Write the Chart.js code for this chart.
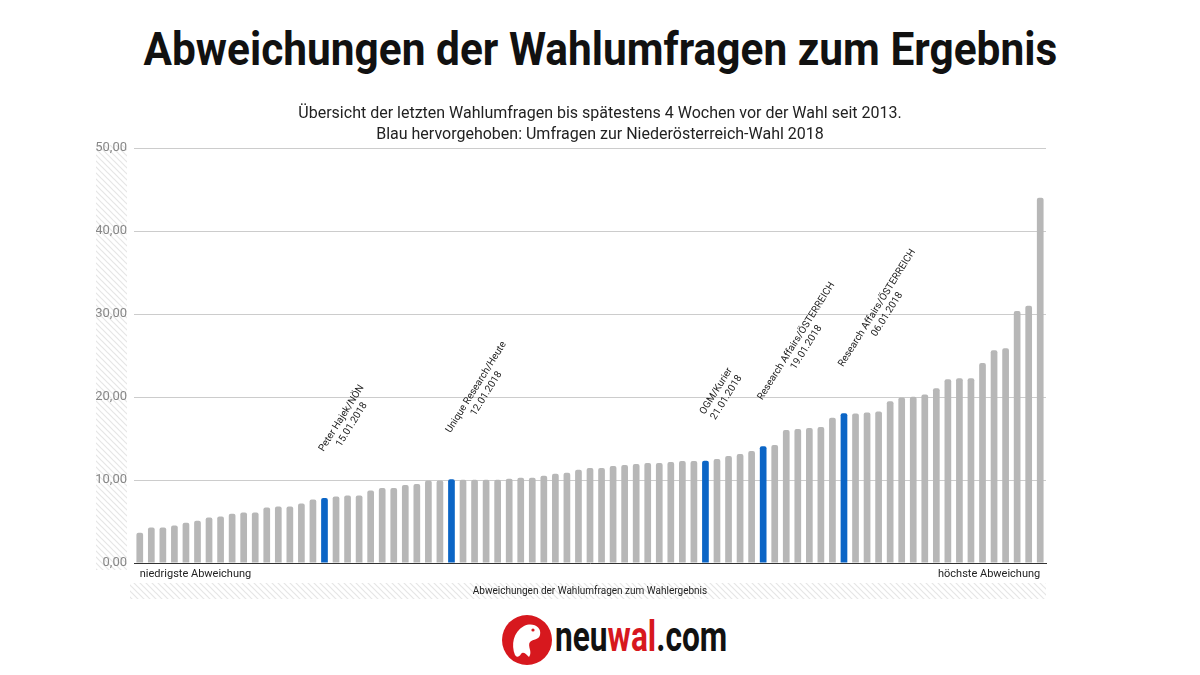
<!DOCTYPE html>
<html lang="de">
<head>
<meta charset="utf-8">
<title>Abweichungen der Wahlumfragen zum Ergebnis</title>
<script src="https://cdn.jsdelivr.net/npm/chart.js@4.4.1/dist/chart.umd.min.js"></script>
<style>
  html, body { margin: 0; padding: 0; background: #fff; }
  body { width: 1200px; height: 675px; position: relative; overflow: hidden; font-family: Roboto, "Noto Sans", sans-serif; }
  #titel { position: absolute; top: 22px; left: 0; width: 1200px; text-align: center; white-space: nowrap; }
  #titel span { display: inline-block; font-weight: 700; font-size: 46px; color: #111; transform-origin: center; }
  #chartBox { position: absolute; left: 0; top: 95px; width: 1200px; height: 515px; }
  #logo { position: absolute; left: 502px; top: 615px; height: 50px; }
  #logo svg { position: absolute; left: 0; top: 0; }
  #logo .txt { position: absolute; left: 53px; top: -3px; font-weight: 700; font-size: 42px; color: #111; white-space: nowrap; transform-origin: left center; }
  #logo .rot { color: #d7181e; }
</style>
</head>
<body>
<div id="titel"><span>Abweichungen der Wahlumfragen zum Ergebnis</span></div>
<div id="chartBox"><canvas id="grafik"></canvas></div>
<div id="logo">
  <svg width="50" height="50" viewBox="0 0 50 50">
    <circle cx="25" cy="25" r="25" fill="#d7181e"/>
    <path d="M13 40 C 9 30, 11 17, 22 11 C 31 7, 40 12, 38 20 C 37 25, 31 24, 28 27 C 25 31, 31 37, 27 42 C 24 39, 21 36, 19 39 C 17 42, 15 43, 13 40 Z" fill="#fff"/>
    <circle cx="31" cy="15" r="1.6" fill="#d7181e"/>
  </svg>
  <span class="txt">neu<span class="rot">wal</span>.com</span>
</div>
<script>
// Abweichungen (sortiert), von links nach rechts
const werte = [
  3.64, 4.28, 4.28, 4.52, 4.84, 5.08, 5.48, 5.6, 5.92, 6.08,
  6.08, 6.68, 6.8, 6.8, 7.16, 7.64, 7.84, 8.0, 8.12, 8.12,
  8.72, 9.04, 9.04, 9.4, 9.52, 9.94, 9.94, 10.1, 10.02, 10.02,
  10.02, 10.02, 10.14, 10.26, 10.26, 10.5, 10.74, 10.86, 11.22, 11.46,
  11.46, 11.7, 11.82, 11.94, 12.06, 12.06, 12.18, 12.3, 12.3, 12.32,
  12.54, 12.9, 13.14, 13.5, 14.06, 14.22, 16.03, 16.15, 16.27, 16.39,
  17.5, 18.05, 18.0, 18.13, 18.25, 19.5, 19.95, 20.02, 20.31, 21.04,
  22.13, 22.25, 22.25, 24.1, 25.63, 25.88, 30.35, 30.99, 44.01
];
const kategorien = werte.map((w, i) => "Umfrage " + (i + 1));
const randLabels = ["niedrigste Abweichung", "höchste Abweichung"];

// Umfragen zur NÖ-Wahl 2018 (blau)
const markiert = [16, 27, 49, 54, 61];
const institute = ["Peter Hajek/NÖN", "Unique Research/Heute", "OGM/Kurier", "Research Affairs/ÖSTERREICH", "Research Affairs/ÖSTERREICH"];
const umfrageDaten = ["15.01.2018", "12.01.2018", "21.01.2018", "19.01.2018", "06.01.2018"];

const yTicks = [0, 10, 20, 30, 40, 50];
const untertitel = [
  "Übersicht der letzten Wahlumfragen bis spätestens 4 Wochen vor der Wahl seit 2013.",
  "Blau hervorgehoben: Umfragen zur Niederösterreich-Wahl 2018"
];
const xTitel = "Abweichungen der Wahlumfragen zum Wahlergebnis";

const GRAU = "#b7b7b7";
const BLAU = "#0b65c6";

// Titel und Logo auf Breite bringen (schmaler Schnitt)
const t = document.querySelector("#titel span");
t.style.transform = "scaleX(" + (914 / t.offsetWidth) + ")";
const l = document.querySelector("#logo .txt");
l.style.transform = "scaleX(" + (172 / l.offsetWidth) + ")";

function schraffur(ctx) {
  const c = document.createElement("canvas");
  c.width = 6; c.height = 6;
  const p = c.getContext("2d");
  p.strokeStyle = "#e6e6e6";
  p.lineWidth = 1.2;
  p.beginPath();
  p.moveTo(0, 0); p.lineTo(6, 6);
  p.moveTo(-3, 3); p.lineTo(3, 9);
  p.moveTo(3, -3); p.lineTo(9, 3);
  p.stroke();
  return ctx.createPattern(c, "repeat");
}

const hintergrund = {
  id: "hintergrund",
  beforeDraw(chart) {
    const { ctx, chartArea: a, width } = chart;
    ctx.save();
    ctx.fillStyle = schraffur(ctx);
    ctx.fillRect(a.left - 38, a.top - 3, 31, a.bottom - a.top + 10);
    ctx.fillRect(a.left - 4, a.bottom + 20, a.right - a.left + 4, 16);
    ctx.fillStyle = "#222";
    ctx.textAlign = "center";
    ctx.textBaseline = "middle";
    ctx.font = "10px Roboto";
    ctx.fillText(xTitel, (a.left + a.right) / 2, a.bottom + 28);
    // Untertitel über die ganze Breite zentriert
    ctx.font = "16px Roboto";
    untertitel.forEach((z, i) => ctx.fillText(z, width / 2, 19 + i * 21));
    ctx.restore();
  }
};

const beschriftung = {
  id: "beschriftung",
  afterDatasetsDraw(chart) {
    const { ctx } = chart;
    const meta = chart.getDatasetMeta(0);
    ctx.save();
    ctx.font = "10px Roboto";
    ctx.fillStyle = "#222";
    ctx.textAlign = "center";
    ctx.textBaseline = "middle";
    markiert.forEach((idx, k) => {
      const bar = meta.data[idx];
      const w = Math.max(ctx.measureText(institute[k]).width, ctx.measureText(umfrageDaten[k]).width);
      ctx.save();
      ctx.translate(bar.x + 2, bar.y - 44);
      ctx.rotate(-58 * Math.PI / 180);
      ctx.fillText(institute[k], w / 2, -6);
      ctx.fillText(umfrageDaten[k], w / 2, 6);
      ctx.restore();
    });
    ctx.restore();
  }
};

new Chart(document.getElementById("grafik"), {
  type: "bar",
  data: {
    labels: kategorien,
    datasets: [{
      data: werte,
      backgroundColor: werte.map((w, i) => markiert.includes(i) ? BLAU : GRAU),
      categoryPercentage: 1,
      barPercentage: 0.58,
      borderRadius: { topLeft: 2, topRight: 2 },
      borderSkipped: "bottom"
    }]
  },
  options: {
    responsive: true,
    maintainAspectRatio: false,
    animation: false,
    layout: { padding: { left: 96, right: 154, top: 53, bottom: 0 } },
    plugins: {
      legend: { display: false },
      tooltip: { enabled: false },
      title: { display: false }
    },
    scales: {
      x: {
        afterFit(s) { s.height = 47; },
        grid: { display: false, drawTicks: false },
        border: { display: true, color: "#333", dash: [5, 4], width: 1 },
        ticks: {
          autoSkip: false,
          maxRotation: 0,
          align: "inner",
          padding: 5,
          color: "#222",
          font: { family: "Roboto", size: 11 },
          callback: (v, i) => i === 0 ? randLabels[0] : (i === werte.length - 1 ? randLabels[1] : "")
        }
      },
      y: {
        min: 0,
        max: 50,
        afterFit(s) { s.width = 38; },
        afterBuildTicks(s) { s.ticks = yTicks.map(v => ({ value: v })); },
        grid: {
          color: (c) => c.tick && c.tick.value === 0 ? "rgba(0,0,0,0)" : "#cccccc",
          drawTicks: false
        },
        border: { display: false },
        ticks: {
          padding: 7,
          color: "#888",
          font: { family: "Roboto", size: 13 },
          callback: (v) => v.toFixed(2).replace(".", ",")
        }
      }
    }
  },
  plugins: [hintergrund, beschriftung]
});
</script>
</body>
</html>
